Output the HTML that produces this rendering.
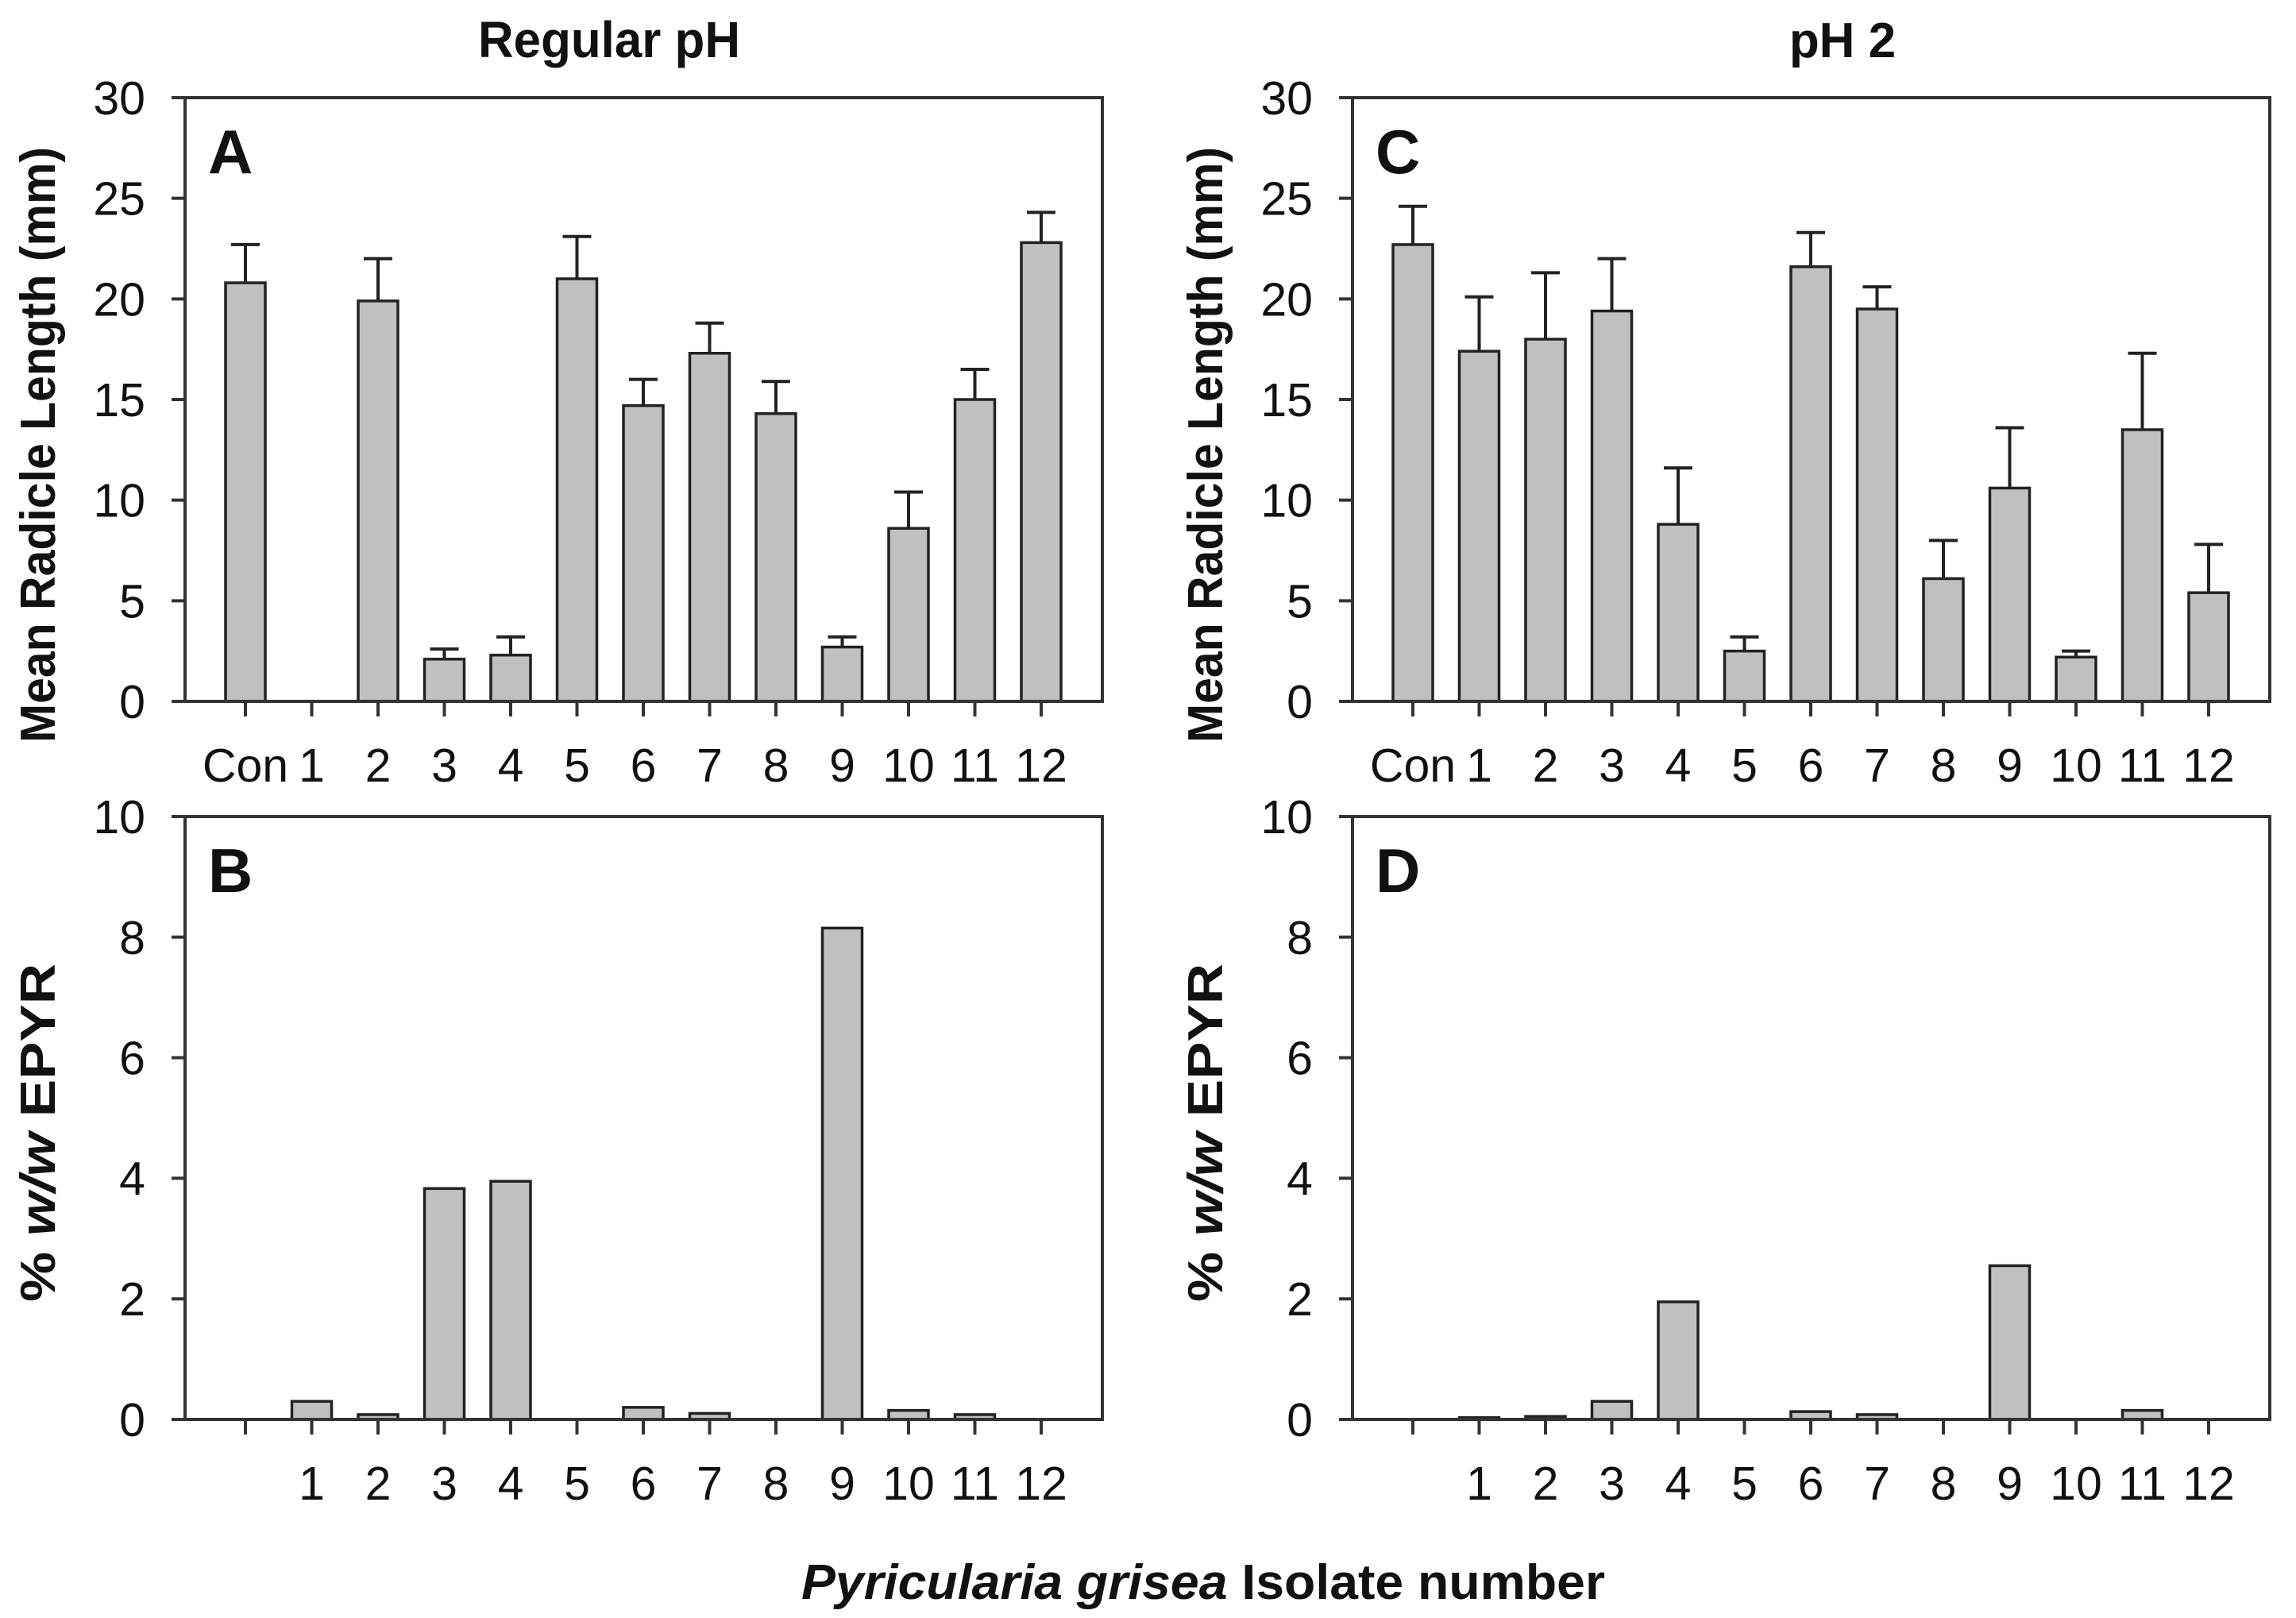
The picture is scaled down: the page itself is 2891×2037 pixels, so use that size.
<!DOCTYPE html>
<html><head><meta charset="utf-8">
<style>
html,body{margin:0;padding:0;background:#fff;}
svg{display:block;}
text{font-family:"Liberation Sans",Arial,sans-serif;fill:#111;}
</style></head>
<body>
<svg id="fig" width="2891" height="2037" viewBox="0 0 2891 2037" xmlns="http://www.w3.org/2000/svg">
<text x="767" y="72" font-size="64" font-weight="bold" text-anchor="middle" textLength="330" lengthAdjust="spacingAndGlyphs">Regular pH</text>
<text x="2320" y="72" font-size="62" font-weight="bold" text-anchor="middle">pH 2</text>
<text x="1515" y="2013" font-size="62" font-weight="bold" text-anchor="middle" textLength="1012" lengthAdjust="spacingAndGlyphs"><tspan font-style="italic">Pyricularia grisea</tspan> Isolate number</text>
</svg>
<script>
const categories = ["Con","1","2","3","4","5","6","7","8","9","10","11","12"];
const radicleRegular = [20.8,0,19.9,2.1,2.3,21.0,14.7,17.3,14.3,2.7,8.6,15.0,22.8];
const radicleRegularErr = [1.9,0,2.1,0.5,0.9,2.1,1.3,1.5,1.6,0.5,1.8,1.5,1.5];
const radiclePh2 = [22.7,17.4,18.0,19.4,8.8,2.5,21.6,19.5,6.1,10.6,2.2,13.5,5.4];
const radiclePh2Err = [1.9,2.7,3.3,2.6,2.8,0.7,1.7,1.1,1.9,3.0,0.3,3.8,2.4];
const epyrRegular = [0,0.30,0.08,3.83,3.95,0,0.20,0.10,0,8.15,0.15,0.08,0];
const epyrPh2 = [0,0.03,0.05,0.30,1.95,0,0.13,0.08,0,2.55,0,0.15,0];
const ticksRadicle = [0,5,10,15,20,25,30];
const ticksEpyr = [0,2,4,6,8,10];

const NS = "http://www.w3.org/2000/svg";
const svg = document.getElementById('fig');
function mk(tag, attrs, parent){
  const e = document.createElementNS(NS, tag);
  for (const k in attrs) e.setAttribute(k, attrs[k]);
  (parent||svg).appendChild(e);
  return e;
}
const STEP = 83.5;
function drawPanel(p){
  const g = mk('g', {});
  
  
  const xs = i => p.left + 76 + i*STEP;
  const ys = v => p.bottom - (v/p.max)*(p.bottom - p.top);
  const right = p.left + 76 + 12*STEP + 77;
  p.values.forEach((v,i)=>{
    if (v <= 0) return;
    const y = ys(v);
    const r = mk('rect', {x: xs(i)-25, y: y, width: 50, height: p.bottom - y, fill:'#c0c0c0', stroke:'#222', 'stroke-width':3.5}, g);
    
    
    if (p.err && p.err[i] > 0){
      const ye = ys(v + p.err[i]);
      const eb = mk('path', {d:`M${xs(i)} ${y} V${ye} M${xs(i)-18} ${ye} H${xs(i)+18}`, stroke:'#222', 'stroke-width':4, fill:'none'}, g);
      
      
    }
  });
  const fr = mk('rect', {x:p.left, y:p.top, width:right-p.left, height:p.bottom-p.top, fill:'none', stroke:'#333', 'stroke-width':4}, g);
  
  
  p.ticks.forEach(t=>{
    const y = ys(t);
    mk('line', {x1:p.left-17, x2:p.left, y1:y, y2:y, stroke:'#333', 'stroke-width':4}, g);
    const tl = mk('text', {x:p.left-50, y:y+21, 'font-size':59, 'text-anchor':'end'}, g);
    tl.textContent = t;
    
    
  });
  categories.forEach((c,i)=>{
    mk('line', {x1:xs(i), x2:xs(i), y1:p.bottom, y2:p.bottom+19, stroke:'#333', 'stroke-width':4}, g);
    if (p.hideCon && i===0) return;
    const xl = mk('text', {x:xs(i), y:p.bottom+101, 'font-size':59, 'text-anchor':'middle'}, g);
    xl.textContent = c;
    
    
  });
  const pl = mk('text', {x:p.left+29, y:p.top+95, 'font-size':78, 'font-weight':'bold'}, g);
  pl.textContent = p.letter;
  
  
  const cy = p.ylabCy;
  const yt = mk('text', {x:0, y:0, 'font-size':62, 'font-weight':'bold', 'text-anchor':'middle', transform:`translate(${p.left-164},${cy}) rotate(-90)`, textLength:p.ylabLen, lengthAdjust:'spacingAndGlyphs'}, g);
  
  
  if (p.ylabHtml){ yt.innerHTML = p.ylabHtml; } else { yt.textContent = p.ylab; }
}
drawPanel({name:'panel-a', letter:'A', left:233, top:123, bottom:883, max:30, values:radicleRegular, err:radicleRegularErr, ticks:ticksRadicle, ylab:'Mean Radicle Length (mm)', ylabCy:560, ylabLen:750});
drawPanel({name:'panel-c', letter:'C', left:1703, top:123, bottom:883, max:30, values:radiclePh2, err:radiclePh2Err, ticks:ticksRadicle, ylab:'Mean Radicle Length (mm)', ylabCy:560, ylabLen:750});
drawPanel({name:'panel-b', letter:'B', left:233, top:1028, bottom:1787, max:10, values:epyrRegular, err:null, ticks:ticksEpyr, hideCon:true, ylabHtml:'% <tspan font-style="italic">w/w</tspan> EPYR', ylabCy:1426, ylabLen:426});
drawPanel({name:'panel-d', letter:'D', left:1703, top:1028, bottom:1787, max:10, values:epyrPh2, err:null, ticks:ticksEpyr, hideCon:true, ylabHtml:'% <tspan font-style="italic">w/w</tspan> EPYR', ylabCy:1426, ylabLen:426});
</script>
</body></html>
